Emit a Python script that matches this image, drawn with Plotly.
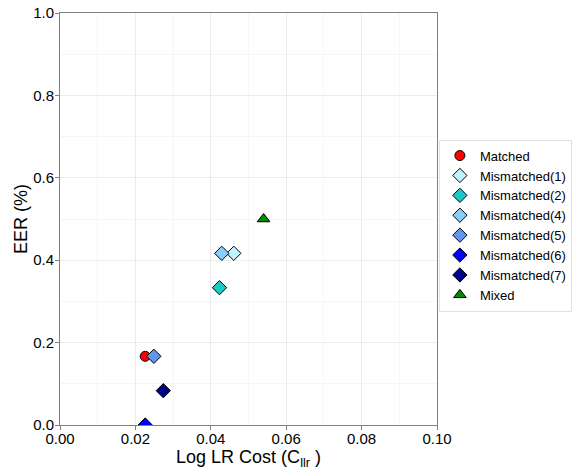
import plotly.graph_objects as go

names = ["Matched", "Mismatched(1)", "Mismatched(2)", "Mismatched(4)",
         "Mismatched(5)", "Mismatched(6)", "Mismatched(7)", "Mixed"]
cllr = [0.0226, 0.0461, 0.0423, 0.0429, 0.0249, 0.0226, 0.0274, 0.0540]
eer = [0.1667, 0.4167, 0.3333, 0.4167, 0.1667, 0.0, 0.0833, 0.5]
symbols = ["circle", "diamond", "diamond", "diamond", "diamond", "diamond", "diamond", "triangle-up"]
colors = ["#FF0000", "#BFF3FF", "#1EC8C8", "#87CEFA", "#6495ED", "#0000FF", "#00008B", "#008B00"]
sizes = [10, 11, 11, 11, 11, 11, 11, 11]

x_ticks = [0.0, 0.02, 0.04, 0.06, 0.08, 0.10]
y_ticks = [0.0, 0.2, 0.4, 0.6, 0.8, 1.0]

FONT = "Arial"

fig = go.Figure()
for n, x, y, s, c, sz in zip(names, cllr, eer, symbols, colors, sizes):
    fig.add_trace(go.Scatter(
        x=[x], y=[y], mode="markers", name=n,
        marker=dict(symbol=s, color=c, size=sz, line=dict(color="black", width=1)),
        cliponaxis=True,
    ))

axis_common = dict(
    showline=True, linecolor="#808080", linewidth=1, mirror=True,
    ticks="outside", ticklen=4, tickcolor="#808080",
    showgrid=True, gridcolor="#EBEBEB", gridwidth=1,
    zeroline=False, automargin=False,
    tickfont=dict(family=FONT, size=15, color="black"),
)

fig.update_xaxes(
    range=[0, 0.1], tickvals=x_ticks, tickformat=".2f",
    minor=dict(dtick=0.01, tick0=0, showgrid=True, gridcolor="#F6F6F6", ticks=""),
    title=dict(text="Log LR Cost (C<sub>llr</sub> )", font=dict(family=FONT, size=18, color="black"),
               standoff=0),
    ticklabelstandoff=-4,
    **axis_common,
)
fig.update_yaxes(
    range=[0, 1], tickvals=y_ticks, tickformat=".1f",
    minor=dict(dtick=0.1, tick0=0, showgrid=True, gridcolor="#F6F6F6", ticks=""),
    title=dict(text="EER (%)", font=dict(family=FONT, size=18, color="black"),
               standoff=0),
    ticklabelstandoff=-2,
    **axis_common,
)

fig.update_layout(
    width=579, height=470,
    margin=dict(l=60, r=142, t=13, b=45),
    plot_bgcolor="white", paper_bgcolor="white",
    legend=dict(
        xref="container", yref="container",
        x=0.758, xanchor="left", y=0.52, yanchor="middle",
        bordercolor="#E0E0E0", borderwidth=1,
        font=dict(family=FONT, size=13, color="black"),
        itemwidth=30, tracegroupgap=0,
    ),
    showlegend=True,
)

fig.write_html("out.html", config={"displayModeBar": False},
               post_script="document.body.style.margin='0px';")
